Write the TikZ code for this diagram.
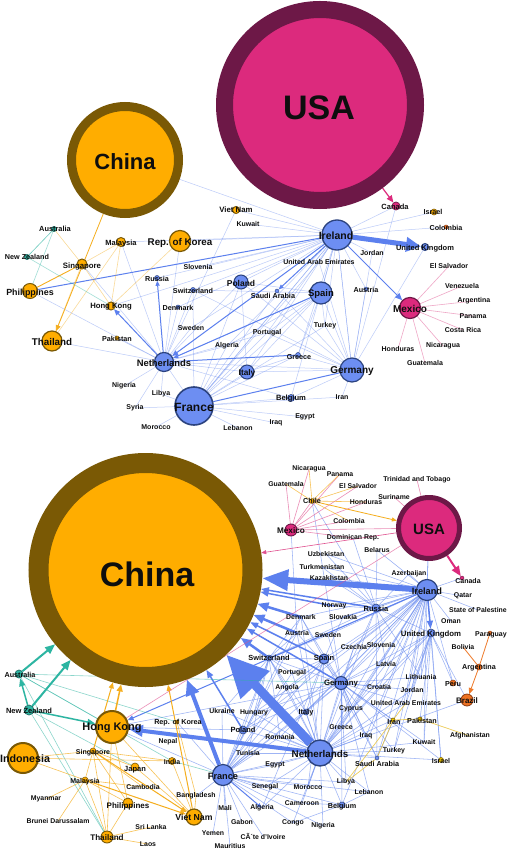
\documentclass[tikz,border=0pt]{standalone}
\usepackage{fontspec}
\setmainfont{Liberation Sans}
\usetikzlibrary{arrows.meta}
\pgfdeclarelayer{bg}
\pgfdeclarelayer{edges}
\pgfsetlayers{bg,edges,main}
\definecolor{bfill}{HTML}{6D8EF2}
\definecolor{bdraw}{HTML}{2C437F}
\definecolor{ofill}{HTML}{FFAD00}
\definecolor{odraw}{HTML}{7A5905}
\definecolor{mfill}{HTML}{DC2A7D}
\definecolor{mdraw}{HTML}{6D1847}
\definecolor{tfill}{HTML}{2DB5A2}
\definecolor{tdraw}{HTML}{1F6E66}
\definecolor{rfill}{HTML}{EE7222}
\definecolor{rdraw}{HTML}{8A3A10}
\definecolor{yfill}{HTML}{EEC400}
\definecolor{ydraw}{HTML}{7A6000}
\definecolor{lbl}{HTML}{0E0E0E}
\definecolor{ebl}{HTML}{6A8CF0}
\definecolor{ebk}{HTML}{5C80EE}
\definecolor{eor}{HTML}{F5AE1E}
\definecolor{epk}{HTML}{E0508F}
\definecolor{etl}{HTML}{2DB5A2}
\definecolor{erd}{HTML}{EE7A2A}
\definecolor{eyl}{HTML}{E8C030}
\tikzset{
  cb/.style={circle,inner sep=0pt,fill=bfill,draw=bdraw,line width=1pt,minimum size=#1},
  co/.style={circle,inner sep=0pt,fill=ofill,draw=odraw,line width=1pt,minimum size=#1},
  cm/.style={circle,inner sep=0pt,fill=mfill,draw=mdraw,line width=1pt,minimum size=#1},
  ct/.style={circle,inner sep=0pt,fill=tfill,draw=tdraw,line width=0.7pt,minimum size=#1},
  cr/.style={circle,inner sep=0pt,fill=rfill,draw=rdraw,line width=0.8pt,minimum size=#1},
  cy/.style={circle,inner sep=0pt,fill=yfill,draw=ydraw,line width=0.6pt,minimum size=#1},
  lab/.style={font=\fontsize{#1}{#1}\selectfont\bfseries,text=lbl,inner sep=0pt},
  eb/.style={draw=ebl,line width=0.5pt,draw opacity=0.45},
  ebl/.style={draw=ebl,line width=0.55pt,draw opacity=0.65},
  ebm/.style={draw=ebk,line width=1pt},
  eo/.style={draw=eor,line width=0.6pt,draw opacity=0.75},
  ep/.style={draw=epk,line width=0.6pt,draw opacity=0.65},
  et/.style={draw=etl,line width=0.6pt,draw opacity=0.7},
  er/.style={draw=erd,line width=0.8pt},
  ey/.style={draw=eyl,line width=0.7pt,draw opacity=0.8},
  arw/.style 2 args={-{Triangle[length=#1,width=#2]}}
}
\begin{document}
\begin{tikzpicture}[x=1pt,y=-1pt]
\path[use as bounding box] (0,0) rectangle (508,850);
\begin{pgfonlayer}{bg}\fill[white] (0,0) rectangle (508,850);\end{pgfonlayer}
% ================= TOP GRAPH =================
\node[cm=191pt,line width=17pt] (tUSA) at (320,105) {};
\node[co=107pt,line width=9pt] (tCHN) at (125,160) {};
\node[cb=30pt,line width=1.3pt] (tIRL) at (337,235) {};
\node[cb=22pt,line width=1.2pt] (tSPA) at (321,293) {};
\node[cb=24pt,line width=1.2pt] (tGER) at (352,370) {};
\node[cb=19pt,line width=1.2pt] (tNLD) at (164,362) {};
\node[cb=38pt,line width=1.6pt] (tFRA) at (194,406) {};
\node[cb=14pt] (tPOL) at (241,282) {};
\node[cb=14pt] (tITA) at (247,372) {};
\node[cb=7pt] (tUK) at (425,247) {};
\node[cb=5pt,line width=0.5pt] (tRUS) at (157,278) {};
\node[cb=5pt,line width=0.5pt] (tSWI) at (193,290) {};
\node[cb=4pt,line width=0.5pt] (tDEN) at (178,307) {};
\node[cb=7pt,line width=0.6pt] (tBEL) at (291,398) {};
\node[cb=5pt,line width=0.5pt] (tGRE) at (298,355) {};
\node[cb=4pt,line width=0.4pt] (tSAU) at (277,291) {};
\node[cb=4pt,line width=0.4pt] (tAUT) at (366,289) {};
\node[cm=21pt,line width=1.2pt] (tMEX) at (410,308) {};
\node[cm=8pt,line width=0.7pt] (tCAN) at (396,206) {};
\node[co=7pt] (tVNM) at (236,210) {};
\node[co=21pt,line width=1.2pt] (tKOR) at (180,241) {};
\node[co=9pt] (tMYS) at (121,242) {};
\node[co=10pt] (tSGP) at (82,264) {};
\node[co=15pt] (tPHL) at (30,291) {};
\node[co=8pt] (tHKG) at (111,306) {};
\node[co=20pt,line width=1.2pt] (tTHA) at (52,341) {};
\node[co=4pt,line width=0.5pt] (tPAK) at (117,338) {};
\node[co=6pt,line width=0.6pt] (tISR) at (434,212) {};
\node[cr=4pt,line width=0.5pt] (tCOL) at (446,227) {};
\node[ct=5pt] (tAUS) at (54,229) {};
\node[ct=5pt] (tNZL) at (27,257) {};
% top labels on nodes
\node[lab=34] (tUSAt) at (319,108) {USA};
\node[lab=22] (tCHNt) at (125,162) {China};
\node[lab=10.5] (tIRLt) at (336,236) {Ireland};
\node[lab=9.5] (tSPAt) at (321,294) {Spain};
\node[lab=10] (tGERt) at (352,371) {Germany};
\node[lab=9.4] (tNLDt) at (164,363) {Netherlands};
\node[lab=12] (tFRAt) at (194,407) {France};
\node[lab=8.5] (tPOLt) at (241,283) {Poland};
\node[lab=8.3] (tITAt) at (247,373) {Italy};
\node[lab=7.5] (tUKt) at (425,249) {United Kingdom};
\node[lab=7.2] (tRUSt) at (157,279) {Russia};
\node[lab=7.2] (tSWIt) at (193,291) {Switzerland};
\node[lab=7.2] (tDENt) at (178,308) {Denmark};
\node[lab=7.6] (tBELt) at (291,399) {Belgium};
\node[lab=7.2] (tGREt) at (299,357) {Greece};
\node[lab=7.2] (tSAUt) at (273,296) {Saudi Arabia};
\node[lab=7.2] (tAUTt) at (366,290) {Austria};
\node[lab=10] (tMEXt) at (410,309) {Mexico};
\node[lab=7.5] (tCANt) at (395,207) {Canada};
\node[lab=7.8] (tVNMt) at (236,210) {Viet Nam};
\node[lab=9.8] (tKORt) at (180,243) {Rep. of Korea};
\node[lab=7.5] (tMYSt) at (121,244) {Malaysia};
\node[lab=7.8] (tSGPt) at (82,266) {Singapore};
\node[lab=8.9] (tPHLt) at (30,293) {Philippines};
\node[lab=7.7] (tHKGt) at (111,307) {Hong Kong};
\node[lab=9.8] (tTHAt) at (52,342) {Thailand};
\node[lab=7.2] (tPAKt) at (117,339) {Pakistan};
\node[lab=7.2] (tISRt) at (433,212) {Israel};
\node[lab=7.2] (tCOLt) at (446,228) {Colombia};
\node[lab=7.4] (tAUSt) at (55,229) {Australia};
\node[lab=7.2] (tNZLt) at (27,257) {New Zealand};
% top label-only
\node[lab=7] (tKWT) at (248,224) {Kuwait};
\node[lab=7] (tSVN) at (198,267) {Slovenia};
\node[lab=7] (tSWE) at (191,328) {Sweden};
\node[lab=7] (tALG) at (227,346) {Algeria};
\node[lab=7] (tNGA) at (124,386) {Nigeria};
\node[lab=7] (tLBY) at (161,394) {Libya};
\node[lab=7] (tSYR) at (135,408) {Syria};
\node[lab=7] (tMAR) at (156,427) {Morocco};
\node[lab=7] (tLBN) at (238,428) {Lebanon};
\node[lab=7] (tIRQ) at (276,423) {Iraq};
\node[lab=7] (tEGY) at (305,417) {Egypt};
\node[lab=7] (tIRN) at (342,397) {Iran};
\node[lab=7] (tTUR) at (325,326) {Turkey};
\node[lab=7] (tPRT) at (267,333) {Portugal};
\node[lab=7] (tUAE) at (319,262) {United Arab Emirates};
\node[lab=7] (tJOR) at (372,253) {Jordan};
\node[lab=7] (tSLV) at (449,266) {El Salvador};
\node[lab=7] (tVEN) at (462,286) {Venezuela};
\node[lab=7] (tARG) at (474,301) {Argentina};
\node[lab=7] (tPAN) at (473,316) {Panama};
\node[lab=7] (tCRI) at (463,330) {Costa Rica};
\node[lab=7] (tNIC) at (443,346) {Nicaragua};
\node[lab=7] (tHND) at (398,349) {Honduras};
\node[lab=7] (tGTM) at (425,363) {Guatemala};
% ================= LOWER GRAPH =================
\node[co=214pt,line width=20pt] (bCHN) at (145.5,570) {};
\node[cm=61pt,line width=5pt] (bUSA) at (429,528) {};
\node[cb=21pt,line width=1.2pt] (bIRL) at (427,590) {};
\node[cb=26pt,line width=1.4pt] (bNLD) at (320,753) {};
\node[cb=21pt,line width=1.2pt] (bFRA) at (223,775) {};
\node[cb=13pt] (bGER) at (341,683) {};
\node[cb=10pt] (bSPA) at (324,659) {};
\node[cb=6pt,line width=0.5pt] (bSWI) at (269,658) {};
\node[cb=8pt,line width=0.6pt] (bRUS) at (376,608) {};
\node[cb=8pt,line width=0.6pt] (bUK) at (431,633) {};
\node[cb=8pt,line width=0.6pt] (bPOL) at (243,730) {};
\node[cb=6pt,line width=0.5pt] (bITA) at (306,712) {};
\node[cb=6pt,line width=0.5pt] (bBEL) at (342,805) {};
\node[cb=4pt,line width=0.4pt] (bSAU) at (377,758) {};
\node[cm=12pt,line width=0.9pt] (bMEX) at (291,530) {};
\node[cm=4pt,line width=0.4pt] (bCAN) at (462,578) {};
\node[cr=12pt] (bBRA) at (467,700) {};
\node[cr=6pt,line width=0.5pt] (bARG) at (479,667) {};
\node[cr=6pt,line width=0.5pt] (bPER) at (453,683) {};
\node[cr=4pt,line width=0.4pt] (bPAR) at (490,633) {};
\node[co=32pt,line width=2pt] (bHKG) at (112,727) {};
\node[co=30pt,line width=2pt] (bIDN) at (23,758) {};
\node[co=16pt,line width=1.2pt] (bVNM) at (194,817) {};
\node[co=4pt,line width=0.4pt] (bKOR) at (177,722) {};
\node[co=6pt,line width=0.5pt] (bSGP) at (93,751) {};
\node[co=7pt,line width=0.6pt] (bIND) at (172,761) {};
\node[co=8pt,line width=0.6pt] (bJPN) at (135,767) {};
\node[co=6pt,line width=0.5pt] (bMYS) at (85,780) {};
\node[co=10pt,line width=0.8pt] (bPHL) at (128,803) {};
\node[co=12pt,line width=0.9pt] (bTHA) at (107,837) {};
\node[co=5pt,line width=0.4pt] (bCHL) at (312,501) {};
\node[cy=5pt] (bISR) at (441,760) {};
\node[cy=4pt] (bPAK) at (420,719) {};
\node[cy=4pt] (bIRN) at (393,720) {};
\node[ct=8pt] (bAUS) at (19,674) {};
\node[ct=10pt] (bNZL) at (29,710) {};
% lower labels on nodes
\node[lab=15] (bUSAt) at (429,529) {USA};
\node[lab=34] (bCHNt) at (147,574) {China};
\node[lab=9.2] (bIRLt) at (427,591) {Ireland};
\node[lab=9.8] (bNLDt) at (320,754) {Netherlands};
\node[lab=9.2] (bFRAt) at (223,776) {France};
\node[lab=7.8] (bGERt) at (341,684) {Germany};
\node[lab=7.5] (bSPAt) at (324,659) {Spain};
\node[lab=7.4] (bSWIt) at (269,658) {Switzerland};
\node[lab=7.5] (bRUSt) at (376,609) {Russia};
\node[lab=7.8] (bUKt) at (431,634) {United Kingdom};
\node[lab=7.5] (bPOLt) at (243,730) {Poland};
\node[lab=7.4] (bITAt) at (306,713) {Italy};
\node[lab=7.2] (bBELt) at (342,807) {Belgium};
\node[lab=7.2] (bSAUt) at (377,764) {Saudi Arabia};
\node[lab=8.2] (bMEXt) at (291,531) {Mexico};
\node[lab=7] (bCANt) at (468,581) {Canada};
\node[lab=8] (bBRAt) at (467,701) {Brazil};
\node[lab=7.2] (bARGt) at (479,668) {Argentina};
\node[lab=7.2] (bPERt) at (453,684) {Peru};
\node[lab=7] (bPARt) at (491,635) {Paraguay};
\node[lab=11] (bHKGt) at (112,728) {Hong Kong};
\node[lab=10.7] (bIDNt) at (25,759) {Indonesia};
\node[lab=8.7] (bVNMt) at (194,817) {Viet Nam};
\node[lab=7.2] (bKORt) at (178,723) {Rep. of Korea};
\node[lab=7] (bSGPt) at (93,753) {Singapore};
\node[lab=7] (bINDt) at (172,762) {India};
\node[lab=7.5] (bJPNt) at (135,770) {Japan};
\node[lab=7] (bMYSt) at (85,782) {Malaysia};
\node[lab=8] (bPHLt) at (128,806) {Philippines};
\node[lab=8.1] (bTHAt) at (107,838) {Thailand};
\node[lab=7.2] (bCHLt) at (312,501) {Chile};
\node[lab=7] (bISRt) at (441,761) {Israel};
\node[lab=7.2] (bPAKt) at (422,721) {Pakistan};
\node[lab=7.2] (bIRNt) at (394,722) {Iran};
\node[lab=7.2] (bAUSt) at (20,675) {Australia};
\node[lab=7.5] (bNZLt) at (29,711) {New Zealand};
% lower label-only
\node[lab=6.9] (bNIC) at (309,469) {Nicaragua};
\node[lab=6.9] (bPAN) at (340,474) {Panama};
\node[lab=6.9] (bGTM) at (286,484) {Guatemala};
\node[lab=6.9] (bSLV) at (358,486) {El Salvador};
\node[lab=6.9] (bTTO) at (417,480) {Trinidad and Tobago};
\node[lab=6.9] (bSUR) at (394,497) {Suriname};
\node[lab=6.9] (bHND) at (366,502) {Honduras};
\node[lab=6.9] (bCOL) at (349,521) {Colombia};
\node[lab=6.9] (bDOM) at (353,538) {Dominican Rep.};
\node[lab=6.9] (bBLR) at (377,550) {Belarus};
\node[lab=6.9] (bUZB) at (326,554) {Uzbekistan};
\node[lab=6.9] (bTKM) at (322,567) {Turkmenistan};
\node[lab=6.9] (bKAZ) at (329,578) {Kazakhstan};
\node[lab=6.9] (bAZE) at (409,574) {Azerbaijan};
\node[lab=6.9] (bQAT) at (463,596) {Qatar};
\node[lab=6.9] (bPSE) at (478,610) {State of Palestine};
\node[lab=6.9] (bOMN) at (451,621) {Oman};
\node[lab=6.9] (bNOR) at (334,606) {Norway};
\node[lab=6.9] (bDEN) at (301,617) {Denmark};
\node[lab=6.9] (bSVK) at (343,617) {Slovakia};
\node[lab=6.9] (bAUT) at (297,633) {Austria};
\node[lab=6.9] (bSWE) at (328,635) {Sweden};
\node[lab=6.9] (bCZE) at (354,647) {Czechia};
\node[lab=6.9] (bSVN) at (381,645) {Slovenia};
\node[lab=6.9] (bBOL) at (463,647) {Bolivia};
\node[lab=6.9] (bLVA) at (386,664) {Latvia};
\node[lab=6.9] (bPRT) at (292,673) {Portugal};
\node[lab=6.9] (bLTU) at (421,677) {Lithuania};
\node[lab=6.9] (bAGO) at (287,688) {Angola};
\node[lab=6.9] (bCRO) at (379,687) {Croatia};
\node[lab=6.9] (bJOR) at (412,690) {Jordan};
\node[lab=6.9] (bUAE) at (406,703) {United Arab Emirates};
\node[lab=6.9] (bCYP) at (351,709) {Cyprus};
\node[lab=6.9] (bGRE) at (341,727) {Greece};
\node[lab=6.9] (bHUN) at (254,713) {Hungary};
\node[lab=6.9] (bUKR) at (222,711) {Ukraine};
\node[lab=6.9] (bAFG) at (470,736) {Afghanistan};
\node[lab=6.9] (bIRQ) at (366,736) {Iraq};
\node[lab=6.9] (bKWT) at (424,742) {Kuwait};
\node[lab=6.9] (bTUR) at (394,751) {Turkey};
\node[lab=6.9] (bROU) at (280,737) {Romania};
\node[lab=6.9] (bTUN) at (248,753) {Tunisia};
\node[lab=6.9] (bEGY) at (275,765) {Egypt};
\node[lab=6.9] (bLBY) at (346,782) {Libya};
\node[lab=6.9] (bSEN) at (265,787) {Senegal};
\node[lab=6.9] (bMAR) at (308,787) {Morocco};
\node[lab=6.9] (bLBN) at (369,792) {Lebanon};
\node[lab=6.9] (bCMR) at (302,803) {Cameroon};
\node[lab=6.9] (bALG) at (262,808) {Algeria};
\node[lab=6.9] (bMAL) at (225,808) {Mali};
\node[lab=6.9] (bGAB) at (242,822) {Gabon};
\node[lab=6.9] (bCGO) at (293,823) {Congo};
\node[lab=6.9] (bNGA) at (323,826) {Nigeria};
\node[lab=6.9] (bYEM) at (213,833) {Yemen};
\node[lab=6.9] (bCIV) at (263,836) {CÃ´te d'Ivoire};
\node[lab=6.9] (bMUS) at (230,846) {Mauritius};
\node[lab=6.9] (bNPL) at (168,742) {Nepal};
\node[lab=6.9] (bCAM) at (143,787) {Cambodia};
\node[lab=6.9] (bMMR) at (46,799) {Myanmar};
\node[lab=6.9] (bBGD) at (196,796) {Bangladesh};
\node[lab=6.9] (bBRN) at (58,821) {Brunei Darussalam};
\node[lab=6.9] (bLKA) at (151,827) {Sri Lanka};
\node[lab=6.9] (bLAO) at (148,844) {Laos};
% ================= EDGES =================
\begin{pgfonlayer}{edges}
% ---- top
\foreach \b in {tKWT,tVNM,tKOR,tMYS,tSVN,tRUS,tSWI,tDEN,tPOL,tUAE,tSPA,tGER,tAUT,tJOR,tCAN,tISR,tCOL,tFRA,tITA,tPRT,tGRE,tTUR,tHKG,tSWE,tALG,tBEL,tCHN}
  \draw[eb] (tIRL.center) -- (\b.center);
\foreach \b in {tMYS,tPHL,tTHA,tPAK,tDEN,tSWI,tSWE,tSPA,tGER,tITA,tFRA,tNGA,tLBY,tSYR,tPOL,tSGP,tALG,tPRT,tKOR,tVNM,tBEL}
  \draw[eb] (tNLD.center) -- (\b.center);
\foreach \b in {tMAR,tLBN,tIRQ,tEGY,tBEL,tITA,tSPA,tPOL,tALG,tSWI,tPRT,tGRE,tSAU,tUAE,tSYR,tLBY,tIRN,tTUR,tIRL}
  \draw[eb] (tFRA.center) -- (\b.center);
\foreach \b in {tSPA,tAUT,tIRN,tTUR,tGRE,tPRT,tUK,tCAN,tBEL,tITA,tPOL,tSWI,tSAU,tUAE,tJOR,tIRL}
  \draw[eb] (tGER.center) -- (\b.center);
\foreach \b in {tPRT,tALG,tGRE,tITA,tPOL,tTUR,tSWI}
  \draw[eb] (tSPA.center) -- (\b.center);
\draw[eb] (tITA.center) -- (tGRE.center);
\draw[eb] (tPOL.center) -- (tITA.center);
\draw[ebm] (tIRL) -- (tPHL);
\draw[ebm,arw={7pt}{6pt}] (tIRL) -- (tMEX);
\draw[ebm,arw={6pt}{5pt}] (tIRL) -- (tNLD);
\draw[ebm,arw={5pt}{4pt}] (tIRL) -- (tSAU);
\draw[ebm,arw={6pt}{5pt}] (tNLD) -- (tHKG);
\draw[ebm,arw={5pt}{4pt}] (tNLD) -- (tRUS);
\draw[ebm] (tNLD) -- (tGRE);
\draw[ebm,arw={5pt}{4pt}] (tSPA) -- (tNLD);
\draw[ebm] (tFRA) -- (tGER);
\draw[ebm,arw={15pt}{14pt},line width=5pt] (tIRL) -- (tUK);
\draw[eo,draw opacity=1,line width=0.8pt,arw={6pt}{5pt}] (tCHN) -- (tTHA);
\draw[eo,draw opacity=1,line width=0.9pt] (tSGP) -- (tPHL);
\foreach \a/\b in {tSGP/tMYS,tSGP/tAUS,tSGP/tTHA,tMYS/tTHA,tMYS/tHKG,tKOR/tHKG,tSGP/tHKG}
  \draw[eo,draw opacity=0.45] (\a.center) -- (\b.center);
\draw[et] (tAUS.center) -- (tNZL.center);
\draw[et,draw opacity=0.45] (tNZL.center) -- (tHKG.center);
\draw[et,draw opacity=0.45] (tAUS.center) -- (tPHL.center);
\draw[draw=mfill,line width=1.2pt,arw={7pt}{6pt}] (tUSA) -- (tCAN);
\foreach \b in {tSLV,tVEN,tARG,tPAN,tCRI,tNIC,tGTM,tHND}
  \draw[ep,draw opacity=0.5] (tMEX.center) -- (\b.center);
% ---- lower thin blue
\foreach \b in {bAZE,bCAN,bQAT,bPSE,bOMN,bRUS,bSVK,bNOR,bDEN,bAUT,bSWE,bSWI,bSPA,bGER,bCZE,bSVN,bLVA,bLTU,bJOR,bUAE,bCRO,bCYP,bITA,bPOL,bNLD,bFRA,bBEL,bISR,bKWT,bTUR,bKAZ,bUZB,bBLR,bTKM,bUSA,bPER,bSAU,bIRQ,bGRE,bHUN,bROU}
  \draw[ebl] (bIRL.center) -- (\b.center);
\foreach \b in {bGER,bSPA,bSWI,bITA,bPOL,bFRA,bBEL,bEGY,bROU,bHUN,bUKR,bMAR,bLBY,bLBN,bCMR,bNGA,bCGO,bSEN,bALG,bSAU,bTUR,bIRQ,bGRE,bCYP,bCRO,bUAE,bIRN,bBRA,bRUS,bUK,bJOR,bAGO,bPRT,bTUN,bKWT,bISR,bLVA,bDEN,bAUT,bCZE,bSVN}
  \draw[ebl] (bNLD.center) -- (\b.center);
\foreach \b in {bMAL,bGAB,bYEM,bMUS,bCIV,bCGO,bSEN,bMAR,bCMR,bTUN,bEGY,bBEL,bGER,bSPA,bSWI,bPOL,bITA,bROU,bHUN,bUKR,bBGD,bLBY,bLBN,bNGA,bPRT,bAGO,bHKG,bKOR,bDEN,bAUT}
  \draw[ebl] (bFRA.center) -- (\b.center);
\foreach \b in {bSPA,bSWI,bRUS,bUK,bCZE,bSVN,bLVA,bCRO,bCYP,bGRE,bITA,bPOL,bIRQ,bTUR,bIRN,bSAU,bBEL,bAUT,bDEN,bSWE,bLTU,bJOR,bUAE,bKWT,bISR,bLBY,bLBN,bHKG,bHUN}
  \draw[ebl] (bGER.center) -- (\b.center);
\foreach \b in {bDEN,bAUT,bSWE,bSPA,bPRT,bAGO,bITA,bPOL,bROU,bRUS,bHUN,bTUN,bUKR}
  \draw[ebl] (bSWI.center) -- (\b.center);
\foreach \b in {bKAZ,bUZB,bTKM,bBLR,bAZE,bSVK,bNOR,bUK,bLVA,bLTU,bSAU,bCHL,bDOM}
  \draw[ebl] (bRUS.center) -- (\b.center);
\foreach \b in {bLTU,bJOR,bUAE,bKWT,bISR,bPER,bSAU,bTUR,bPAK,bCYP,bBRA,bLVA}
  \draw[ebl] (bUK.center) -- (\b.center);
\foreach \b in {bPRT,bAGO,bITA,bALG,bMAR,bSAU,bDEN,bSVK}
  \draw[ebl] (bSPA.center) -- (\b.center);
\foreach \a/\b in {bBEL/bCMR,bBEL/bCGO,bBEL/bLBN,bMEX/bAUT,bCHL/bGER,bPOL/bHKG,bUSA/bIRL}
  \draw[ebl] (\a.center) -- (\b.center);
% ---- lower thick arrows to China
\draw[draw=ebk,line width=9pt,arw={42pt}{38pt}] (bNLD) -- (bCHN);
\draw[draw=ebk,line width=6pt,arw={26pt}{20pt}] (bIRL) -- (bCHN);
\draw[draw=ebk,line width=4pt,arw={16pt}{13pt}] (bFRA) -- (bCHN);
\draw[draw=ebk,line width=4pt,arw={14pt}{11pt}] (bNLD) -- (bHKG);
\draw[draw=ebk,line width=2.5pt,arw={11pt}{9pt}] (bDEN.center) -- (bCHN);
\draw[draw=ebk,line width=2.5pt,arw={11pt}{9pt}] (bAUT.center) -- (bCHN);
\draw[draw=ebk,line width=2.5pt,arw={11pt}{9pt}] (bSWI) -- (bCHN);
\draw[draw=ebk,line width=1.5pt,arw={8pt}{6pt}] (bSPA) -- (bCHN);
\draw[draw=ebk,line width=1.5pt,arw={8pt}{6pt}] (bGER) -- (bCHN);
\draw[draw=ebk,line width=1.5pt,arw={8pt}{6pt}] (bRUS) -- (bCHN);
\draw[draw=ebk,line width=1.5pt,arw={8pt}{6pt}] (bPOL) -- (bCHN);
\draw[draw=ebk,line width=1.5pt,arw={8pt}{6pt}] (bNOR.center) -- (bCHN);
\draw[ebm,arw={6pt}{5pt}] (bIRL) -- (bHKG);
\draw[ebm,line width=1.5pt,arw={8pt}{6pt}] (bIRL) -- (bUK);
\draw[ebm,arw={5pt}{4pt}] (bFRA) -- (bALG.center);
% ---- teal
\draw[draw=etl,line width=2pt,arw={10pt}{8pt}] (bAUS) -- (bCHN);
\draw[draw=etl,line width=2pt,arw={10pt}{8pt}] (bNZL) -- (bCHN);
\draw[draw=etl,line width=1.5pt,arw={8pt}{6pt}] (bNZL) -- (bAUS);
\draw[draw=etl,line width=1.5pt,arw={8pt}{6pt}] (bNZL) -- (bHKG);
\foreach \a/\b in {bAUS/bHKG,bAUS/bTHA,bNZL/bTHA,bAUS/bIND,bAUS/bGER,bNZL/bJPN,bIND/bFRA,bAUS/bKOR}
  \draw[et,draw opacity=0.55] (\a.center) -- (\b.center);
% ---- orange
\draw[draw=eor,line width=1.5pt,arw={7pt}{6pt}] (bHKG) -- (bCHN);
\draw[draw=eor,line width=1pt,arw={6pt}{5pt}] (bSGP) -- (bCHN);
\draw[draw=eor,line width=1pt,arw={6pt}{5pt}] (bVNM) -- (bCHN);
\draw[draw=eor,line width=1pt,arw={6pt}{5pt}] (bSGP) -- (bVNM);
\draw[draw=eor,line width=1pt,arw={6pt}{5pt}] (bMYS) -- (bVNM);
\foreach \a/\b in {bSGP/bMYS,bSGP/bPHL,bSGP/bTHA,bSGP/bJPN,bSGP/bIDN,bSGP/bIND,bSGP/bCAM,bMYS/bTHA,bMYS/bMMR,bMYS/bBRN,bMYS/bIDN,bMYS/bCAM,bPHL/bTHA,bTHA/bLAO,bTHA/bLKA,bHKG/bPHL,bHKG/bTHA,bJPN/bVNM,bIND/bVNM,bBGD/bVNM,bMYS/bPHL,bHKG/bVNM,bKOR/bBGD,bIDN/bIND}
  \draw[eo] (\a.center) -- (\b.center);
% ---- pink / Latin America
\draw[draw=mfill,line width=2pt,arw={10pt}{8pt}] (bUSA) -- (bCAN);
\foreach \b in {bUSA,bGTM,bNIC,bPAN,bSLV,bHND,bCOL,bDOM,bCHL}
  \draw[ep] (bMEX.center) -- (\b.center);
\draw[ep] (bUSA.center) -- (bTTO.center);
\draw[ep] (bUSA.center) -- (bSUR.center);
\draw[ep,draw opacity=1,arw={5pt}{4pt}] (bUSA) -- (bCHN);
\draw[ep] (bUSA.center) -- (bHKG.center);
\foreach \b in {bNIC,bPAN,bGTM,bSLV,bHND,bCOL}
  \draw[eo] (bCHL.center) -- (\b.center);
\draw[eo,draw opacity=1,line width=0.8pt,arw={5pt}{4pt}] (bCHL) -- (bUSA);
% ---- South America
\draw[er,arw={6pt}{5pt}] (bARG) -- (bBRA);
\draw[er] (bPAR) -- (bARG);
\draw[er] (bBOL.center) -- (bARG);
% ---- yellow
\foreach \a/\b in {bPAK/bAFG,bIRN/bSAU,bIRN/bLBY,bIRN/bUAE,bPAK/bIRN,bSAU/bLBY}
  \draw[ey] (\a.center) -- (\b.center);
\end{pgfonlayer}
\end{tikzpicture}
\end{document}
